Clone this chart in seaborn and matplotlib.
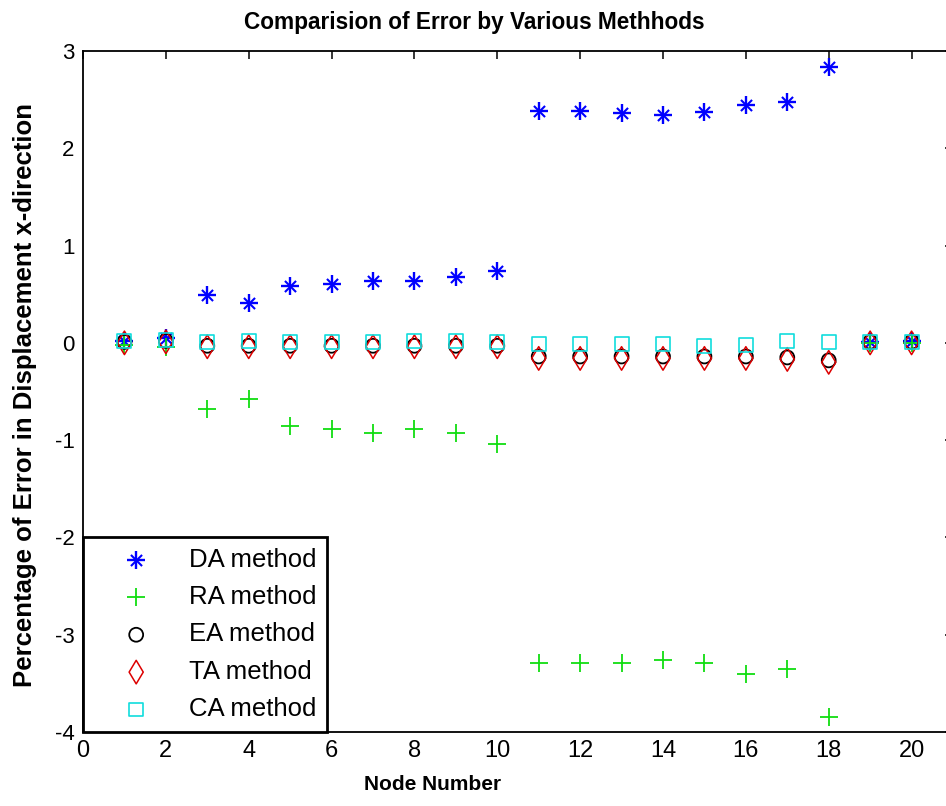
import matplotlib
matplotlib.use("Agg")
import matplotlib.pyplot as plt
import pandas as pd
import seaborn as sns
from matplotlib.legend_handler import HandlerTuple

# Node-wise percentage error in x-displacement for each method
nodes = list(range(1, 21))
da_error = [0.02, 0.05, 0.49, 0.41, 0.58, 0.60, 0.64, 0.64, 0.68, 0.74,
            2.38, 2.38, 2.36, 2.34, 2.37, 2.45, 2.48, 2.84, 0.01, 0.02]
ra_error = [-0.02, -0.04, -0.68, -0.58, -0.85, -0.89, -0.93, -0.89, -0.93, -1.04,
            -3.29, -3.29, -3.29, -3.26, -3.29, -3.40, -3.35, -3.85, 0.00, 0.00]
ea_error = [0.01, 0.02, -0.03, -0.03, -0.03, -0.03, -0.03, -0.03, -0.03, -0.03,
            -0.14, -0.14, -0.14, -0.14, -0.14, -0.14, -0.15, -0.18, 0.01, 0.01]
ta_error = [0.00, 0.01, -0.04, -0.04, -0.04, -0.04, -0.04, -0.04, -0.04, -0.04,
            -0.16, -0.16, -0.16, -0.16, -0.16, -0.16, -0.17, -0.20, 0.00, 0.00]
ca_error = [0.02, 0.03, 0.01, 0.02, 0.01, 0.01, 0.01, 0.02, 0.02, 0.01,
            -0.01, -0.01, -0.01, -0.01, -0.03, -0.02, 0.02, 0.01, 0.01, 0.01]

labels = ["DA method", "RA method", "EA method", "TA method", "CA method"]
x_ticks = list(range(0, 21, 2))
y_ticks = list(range(-4, 4))

df = pd.DataFrame({"node": nodes, "DA": da_error, "RA": ra_error,
                   "EA": ea_error, "TA": ta_error, "CA": ca_error})

sns.set_style("white")
plt.rcParams["font.family"] = ["Liberation Sans", "DejaVu Sans"]
plt.rcParams["axes.unicode_minus"] = False
for key in ("text.color", "axes.labelcolor", "xtick.color", "ytick.color"):
    plt.rcParams[key] = "black"

fig = plt.figure(figsize=(9.46, 8.06), dpi=100)
W, H = 946, 806
ax_left, ax_right, ax_top, ax_bottom = 83, 953, 51, 732
ax = fig.add_axes([ax_left / W, 1 - ax_bottom / H,
                   (ax_right - ax_left) / W, (ax_bottom - ax_top) / H])

blue, green, red, cyan = "#0000ff", "#11dd11", "#dd0000", "#11dddd"

# DA: asterisk built from a plus and a smaller cross
sns.scatterplot(data=df, x="node", y="DA", marker="+", s=13 ** 2,
                color=blue, linewidth=1.7, ax=ax, zorder=3)
sns.scatterplot(data=df, x="node", y="DA", marker="x", s=8 ** 2,
                color=blue, linewidth=1.5, ax=ax, zorder=3)
sns.scatterplot(data=df, x="node", y="RA", marker="+", s=13 ** 2,
                color=green, linewidth=1.3, ax=ax, zorder=3)
sns.scatterplot(data=df, x="node", y="EA", marker="o", s=10 ** 2,
                facecolor="none", edgecolor="black", linewidth=1.3, ax=ax, zorder=3)
sns.scatterplot(data=df, x="node", y="TA", marker="d", s=12 ** 2,
                facecolor="none", edgecolor=red, linewidth=1.1, ax=ax, zorder=3)
sns.scatterplot(data=df, x="node", y="CA", marker="s", s=10 ** 2,
                facecolor="none", edgecolor=cyan, linewidth=1.2, ax=ax, zorder=4)

ax.set_xlim(0, 21)
ax.set_ylim(-4, 3)
ax.set_xticks(x_ticks)
ax.set_yticks(y_ticks)
ax.set_xlabel("")
ax.set_ylabel("")
ax.tick_params(direction="in", length=6, width=1.1, top=True, right=True,
               colors="black", pad=6)
for lab in ax.get_xticklabels():
    lab.set_fontsize(17)
for lab in ax.get_yticklabels():
    lab.set_fontsize(16)
for sp in ax.spines.values():
    sp.set_color("black")
    sp.set_linewidth(1.3)

fig.text(474 / W, 1 - 22 / H, "Comparision of Error by Various Methhods",
         ha="center", va="center", fontsize=16.3, fontweight="bold")
fig.text(433 / W, 1 - 785 / H, "Node Number", ha="center", va="center",
         fontsize=15, fontweight="bold")
fig.text(25 / W, 1 - 395 / H, "Percentage of Error in Displacement x-direction",
         ha="center", va="center", rotation=90, fontsize=18.5, fontweight="bold")

cols = ax.collections
handles = [(cols[0], cols[1]), cols[2], cols[3], cols[4], cols[5]]
leg = ax.legend(handles, labels, loc="lower left", borderaxespad=0,
                handler_map={tuple: HandlerTuple(ndivide=1, pad=0)},
                fontsize=18.5, frameon=True, fancybox=False,
                handlelength=3.3, handletextpad=0.4, labelspacing=0.52,
                borderpad=0.42, scatterpoints=1)
leg.get_frame().set_edgecolor("black")
leg.get_frame().set_linewidth(2)
leg.get_frame().set_alpha(1)
leg.set_zorder(10)

fig.savefig("out.png", dpi=100, facecolor="white")
